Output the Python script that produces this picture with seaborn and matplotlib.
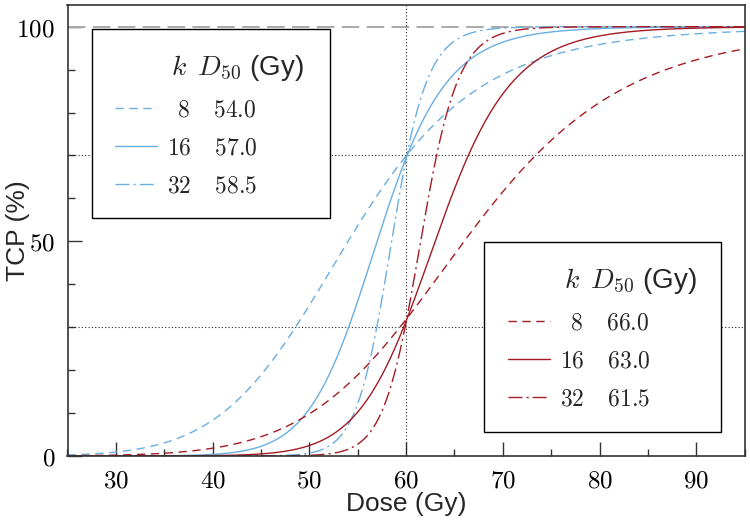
import numpy as np
import pandas as pd
import matplotlib
matplotlib.use("Agg")
import matplotlib.pyplot as plt
import seaborn as sns
from matplotlib.lines import Line2D
from matplotlib.patches import Rectangle
from matplotlib.ticker import FuncFormatter, MultipleLocator

# =========================
# DATA (legend parameters)
# =========================
k_values = [8, 16, 32]
d50_blue = [54.0, 57.0, 58.5]
d50_red = [66.0, 63.0, 61.5]
dose_min, dose_max = 25, 95

blue = "#6aaee2"
red = "#a31b25"

# logistic TCP model from the legend parameters
dose = np.linspace(dose_min, dose_max, 701)
rows = []
for grp, d50s in [("blue", d50_blue), ("red", d50_red)]:
    for k, d50 in zip(k_values, d50s):
        tcp = 100.0 / (1.0 + (d50 / dose) ** k)
        rows.append(pd.DataFrame({"dose": dose, "tcp": tcp,
                                  "curve": f"{grp}{k}", "k": k}))
df = pd.concat(rows, ignore_index=True)

# =========================
# STYLE
# =========================
sns.set_style("white")
plt.rcParams["font.family"] = ["Liberation Sans", "DejaVu Sans"]
plt.rcParams["mathtext.fontset"] = "cm"

fig = plt.figure(figsize=(7.5, 5.24), dpi=100)
ax = fig.add_axes([0.090, 0.130, 0.903, 0.860])

palette = {f"blue{k}": blue for k in k_values}
palette.update({f"red{k}": red for k in k_values})
dash_map = {8: (6, 4), 16: "", 32: (10, 3, 1.5, 3)}

sns.lineplot(data=df, x="dose", y="tcp", hue="curve", style="k",
             palette=palette, dashes=dash_map, linewidth=1.0,
             legend=False, ax=ax, zorder=2)

# reference lines
ax.axhline(100, color="#aaaaaa", lw=1.4, dashes=(9, 3.8), zorder=1)
ax.axvline(60, color="#222222", lw=0.8, ls=(0, (1, 2)), zorder=1)
ax.axhline(70, color="#222222", lw=0.8, ls=(0, (1, 2)), zorder=1)
ax.axhline(30, color="#222222", lw=0.8, ls=(0, (1, 2)), zorder=1)

ax.set_xlim(dose_min, dose_max)
ax.set_ylim(0, 105)
ax.xaxis.set_major_locator(MultipleLocator(10))
ax.xaxis.set_minor_locator(MultipleLocator(5))
ax.yaxis.set_major_locator(MultipleLocator(50))
ax.yaxis.set_minor_locator(MultipleLocator(10))
ax.set_xticks([30, 40, 50, 60, 70, 80, 90])
ax.xaxis.set_major_formatter(FuncFormatter(lambda v, p: rf"${v:.0f}$"))
ax.yaxis.set_major_formatter(FuncFormatter(lambda v, p: rf"${v:.0f}$"))
ax.tick_params(which="both", direction="in", bottom=True, left=True,
               top=False, right=False, colors="#333333", labelcolor="black",
               labelsize=18, pad=9)
ax.tick_params(which="major", length=10, width=1.0)
ax.tick_params(which="minor", length=5, width=1.0)
for s in ax.spines.values():
    s.set_color("#333333")
    s.set_linewidth(1.2)

ax.set_xlabel("Dose (Gy)", fontsize=19, labelpad=0)
ax.set_ylabel("TCP (%)", fontsize=19)
ax.yaxis.set_label_coords(-0.056, 0.5)

# =========================
# LEGENDS
# =========================
header = r"$\,k\ \,D_{50}$ (Gy)"
styles = [dict(ls=(0, (6, 4))), dict(ls="-"), dict(ls=(0, (10, 3, 1.5, 3)))]


def make_legend(color, d50s, box, anchor):
    x0, y0, x1, y1 = box
    ax.add_patch(Rectangle((x0, y0), x1 - x0, y1 - y0, transform=ax.transAxes,
                           facecolor="white", edgecolor="black", lw=1.0,
                           zorder=4))
    handles = [Line2D([], [], color="none")]
    labels = [header]
    for k, d50, st in zip(k_values, d50s, styles):
        handles.append(Line2D([], [], color=color, lw=1.0, **st))
        pad = r"\enspace" if k < 10 else ""
        labels.append(rf"${pad}{k}\quad\,{d50:.1f}$")
    leg = ax.legend(handles, labels, loc="upper left", bbox_to_anchor=anchor,
                    frameon=False, fontsize=17, handlelength=1.78,
                    handletextpad=0.42, labelspacing=0.68, borderpad=0,
                    borderaxespad=0)
    leg.get_texts()[0].set_fontsize(20)
    leg.set_zorder(5)
    return leg


leg1 = make_legend(blue, d50_blue, (0.036, 0.528, 0.387, 0.947), (0.070, 0.893))
ax.add_artist(leg1)
make_legend(red, d50_red, (0.615, 0.053, 0.965, 0.4745), (0.650, 0.421))

fig.savefig("out.png", dpi=100)
